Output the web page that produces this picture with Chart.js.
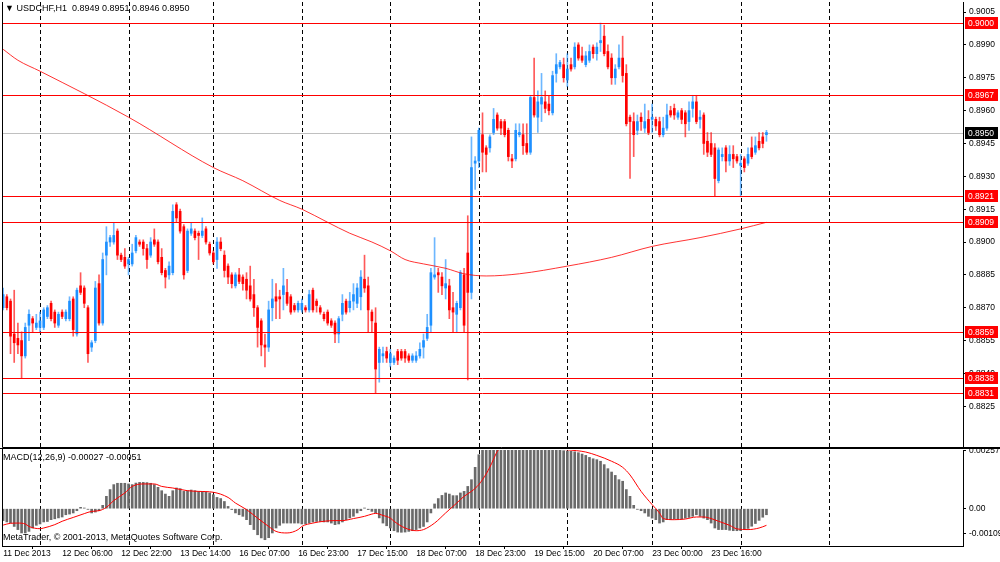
<!DOCTYPE html>
<html>
<head>
<meta charset="utf-8">
<title>USDCHF,H1</title>
<script src="https://cdn.jsdelivr.net/npm/chart.js@4.4.0/dist/chart.umd.min.js"></script>
<style>
    body { margin: 0; background: #fff; }
    #wrap { position: relative; width: 1000px; height: 562px; overflow: hidden; font-family: "Liberation Sans", Arial, "DejaVu Sans", sans-serif; }
    #price-canvas { position: absolute; left: 0; top: 0; }
    #macd-canvas { position: absolute; left: 0; top: 448px; }
    .label { position: absolute; font-size: 9px; line-height: 11px; color: #000; white-space: pre; }
</style>
</head>
<body>
<div id="wrap">
    <canvas id="price-canvas" width="1000" height="448"></canvas>
    <canvas id="macd-canvas" width="1000" height="114"></canvas>
    <div class="label" style="left:5px; top:3px;">▼ USDCHF,H1  0.8949 0.8951 0.8946 0.8950</div>
    <div class="label" style="left:3px; top:452px;">MACD(12,26,9) -0.00027 -0.00051</div>
    <div class="label" style="left:3px; top:532px;">MetaTrader, © 2001-2013, MetaQuotes Software Corp.</div>
</div>

<script>
// Hourly candles, bar 0 = 11 Dec 2013 14:00
const opens = [
    0.8870,0.8875,0.8873,0.8858,0.8856,0.8855,0.8848,0.8862,0.8865,0.8861,
    0.8861,0.8861,0.8866,0.8872,0.8868,0.8862,0.8868,0.8865,0.8865,0.8874,
    0.8858,0.8880,0.8879,0.8870,0.8852,0.8855,0.8881,0.8863,0.8894,0.8900,
    0.8900,0.8905,0.8894,0.8893,0.8890,0.8890,0.8896,0.8900,0.8900,0.8897,
    0.8894,0.8901,0.8900,0.8893,0.8887,0.8885,0.8886,0.8917,0.8914,0.8907,
    0.8887,0.8904,0.8905,0.8904,0.8903,0.8906,0.8899,0.8895,0.8892,0.8900,
    0.8894,0.8889,0.8885,0.8880,0.8885,0.8884,0.8883,0.8880,0.8876,0.8870,
    0.8864,0.8853,0.8852,0.8870,0.8875,0.8875,0.8876,0.8877,0.8875,0.8871,
    0.8869,0.8869,0.8870,0.8869,0.8878,0.8873,0.8870,0.8867,0.8868,0.8864,
    0.8863,0.8858,0.8867,0.8873,0.8870,0.8873,0.8872,0.8875,0.8883,0.8880,
    0.8868,0.8863,0.8845,0.8848,0.8850,0.8845,0.8845,0.8850,0.8850,0.8850,
    0.8848,0.8846,0.8846,0.8848,0.8852,0.8856,0.8862,0.8884,0.8886,0.8884,
    0.8879,0.8880,0.8870,0.8867,0.8870,0.8885,0.8895,0.8877,0.8936,0.8937,
    0.8949,0.8943,0.8943,0.8950,0.8958,0.8955,0.8955,0.8951,0.8938,0.8938,
    0.8949,0.8949,0.8945,0.8941,0.8966,0.8957,0.8963,0.8964,0.8963,0.8959,
    0.8977,0.8980,0.8981,0.8974,0.8981,0.8980,0.8990,0.8985,0.8981,0.8983,
    0.8989,0.8986,0.8991,0.8994,0.8987,0.8984,0.8975,0.8980,0.8984,0.8977,
    0.8957,0.8955,0.8951,0.8957,0.8952,0.8956,0.8956,0.8956,0.8955,0.8949,
    0.8952,0.8960,0.8961,0.8957,0.8960,0.8959,0.8955,0.8961,0.8964,0.8956,
    0.8958,0.8946,0.8945,0.8943,0.8928,0.8939,0.8943,0.8937,0.8940,0.8939,
    0.8935,0.8938,0.8936,0.8943,0.8941,0.8946,0.8948,0.8949
];
const highs = [
    0.8879,0.8876,0.8874,0.8878,0.8863,0.8859,0.8863,0.8869,0.8866,0.8867,
    0.8868,0.8870,0.8871,0.8873,0.8869,0.8868,0.8869,0.8869,0.8875,0.8875,
    0.8879,0.8886,0.8880,0.8871,0.8855,0.8882,0.8885,0.8895,0.8907,0.8903,
    0.8909,0.8906,0.8895,0.8897,0.8893,0.8899,0.8903,0.8901,0.8901,0.8899,
    0.8902,0.8906,0.8901,0.8897,0.8888,0.8891,0.8917,0.8918,0.8915,0.8908,
    0.8906,0.8909,0.8906,0.8905,0.8911,0.8907,0.8900,0.8896,0.8902,0.8902,
    0.8896,0.8890,0.8886,0.8886,0.8888,0.8885,0.8886,0.8889,0.8883,0.8871,
    0.8865,0.8858,0.8873,0.8883,0.8881,0.8878,0.8888,0.8883,0.8876,0.8872,
    0.8873,0.8874,0.8871,0.8878,0.8879,0.8874,0.8871,0.8868,0.8869,0.8865,
    0.8864,0.8866,0.8876,0.8874,0.8877,0.8881,0.8881,0.8887,0.8894,0.8884,
    0.8869,0.8870,0.8852,0.8852,0.8852,0.8851,0.8848,0.8851,0.8851,0.8851,
    0.8849,0.8849,0.8850,0.8854,0.8858,0.8867,0.8888,0.8902,0.8888,0.8886,
    0.8892,0.8883,0.8877,0.8873,0.8887,0.8888,0.8912,0.8948,0.8939,0.8952,
    0.8959,0.8944,0.8949,0.8961,0.8959,0.8956,0.8956,0.8952,0.8940,0.8954,
    0.8954,0.8954,0.8954,0.8967,0.8984,0.8969,0.8977,0.8969,0.8967,0.8978,
    0.8986,0.8983,0.8984,0.8986,0.8984,0.8991,0.8991,0.8989,0.8987,0.8990,
    0.8990,0.8991,0.9000,0.8999,0.8990,0.8986,0.8981,0.8990,0.8994,0.8981,
    0.8958,0.8959,0.8958,0.8959,0.8963,0.8960,0.8963,0.8957,0.8957,0.8957,
    0.8963,0.8962,0.8963,0.8960,0.8961,0.8960,0.8964,0.8967,0.8967,0.8960,
    0.8959,0.8950,0.8950,0.8945,0.8943,0.8943,0.8944,0.8944,0.8944,0.8940,
    0.8940,0.8939,0.8943,0.8948,0.8948,0.8950,0.8950,0.8951
];
const lows = [
    0.8869,0.8869,0.8849,0.8845,0.8849,0.8838,0.8847,0.8855,0.8859,0.8860,
    0.8859,0.8860,0.8865,0.8864,0.8861,0.8861,0.8865,0.8864,0.8864,0.8857,
    0.8857,0.8876,0.8870,0.8845,0.8850,0.8854,0.8862,0.8862,0.8885,0.8898,
    0.8899,0.8892,0.8891,0.8888,0.8885,0.8889,0.8895,0.8898,0.8894,0.8888,
    0.8893,0.8898,0.8890,0.8885,0.8879,0.8883,0.8885,0.8909,0.8904,0.8883,
    0.8886,0.8903,0.8901,0.8892,0.8902,0.8899,0.8894,0.8890,0.8888,0.8896,
    0.8884,0.8881,0.8879,0.8879,0.8881,0.8878,0.8874,0.8873,0.8866,0.8852,
    0.8848,0.8843,0.8850,0.8864,0.8865,0.8865,0.8869,0.8871,0.8867,0.8868,
    0.8868,0.8868,0.8868,0.8868,0.8868,0.8868,0.8867,0.8864,0.8862,0.8861,
    0.8854,0.8854,0.8864,0.8867,0.8868,0.8869,0.8870,0.8869,0.8877,0.8859,
    0.8859,0.8831,0.8836,0.8845,0.8845,0.8843,0.8844,0.8844,0.8846,0.8845,
    0.8845,0.8845,0.8845,0.8847,0.8847,0.8855,0.8859,0.8883,0.8877,0.8876,
    0.8874,0.8865,0.8859,0.8859,0.8869,0.8859,0.8837,0.8874,0.8924,0.8934,
    0.8932,0.8932,0.8941,0.8949,0.8951,0.8949,0.8948,0.8937,0.8934,0.8937,
    0.8948,0.8940,0.8940,0.8940,0.8957,0.8950,0.8955,0.8959,0.8958,0.8958,
    0.8973,0.8979,0.8973,0.8971,0.8978,0.8979,0.8983,0.8982,0.8980,0.8982,
    0.8984,0.8983,0.8987,0.8985,0.8979,0.8972,0.8972,0.8979,0.8973,0.8953,
    0.8929,0.8939,0.8949,0.8951,0.8950,0.8949,0.8950,0.8951,0.8948,0.8948,
    0.8951,0.8957,0.8956,0.8956,0.8954,0.8948,0.8951,0.8957,0.8954,0.8952,
    0.8940,0.8939,0.8939,0.8921,0.8927,0.8937,0.8932,0.8935,0.8934,0.8936,
    0.8921,0.8932,0.8935,0.8938,0.8940,0.8942,0.8943,0.8946
];
const closes = [
    0.8876,0.8870,0.8857,0.8854,0.8853,0.8848,0.8861,0.8867,0.8863,0.8863,
    0.8864,0.8869,0.8870,0.8865,0.8863,0.8867,0.8866,0.8868,0.8873,0.8860,
    0.8878,0.8877,0.8872,0.8849,0.8854,0.8879,0.8863,0.8892,0.8900,0.8902,
    0.8903,0.8894,0.8892,0.8889,0.8892,0.8895,0.8902,0.8899,0.8897,0.8892,
    0.8900,0.8899,0.8891,0.8886,0.8884,0.8889,0.8914,0.8911,0.8905,0.8885,
    0.8905,0.8906,0.8902,0.8903,0.8905,0.8900,0.8895,0.8891,0.8900,0.8897,
    0.8887,0.8884,0.8881,0.8885,0.8882,0.8881,0.8878,0.8874,0.8870,0.8861,
    0.8853,0.8852,0.8869,0.8874,0.8873,0.8874,0.8880,0.8872,0.8868,0.8869,
    0.8872,0.8872,0.8869,0.8876,0.8869,0.8871,0.8868,0.8865,0.8863,0.8862,
    0.8858,0.8865,0.8872,0.8868,0.8873,0.8876,0.8879,0.8884,0.8879,0.8869,
    0.8864,0.8842,0.8851,0.8849,0.8847,0.8849,0.8847,0.8846,0.8847,0.8847,
    0.8846,0.8848,0.8848,0.8851,0.8855,0.8861,0.8886,0.8885,0.8885,0.8880,
    0.8881,0.8869,0.8868,0.8872,0.8886,0.8862,0.8877,0.8934,0.8937,0.8951,
    0.8941,0.8940,0.8948,0.8956,0.8952,0.8952,0.8949,0.8939,0.8937,0.8951,
    0.8950,0.8944,0.8941,0.8966,0.8958,0.8964,0.8966,0.8961,0.8960,0.8976,
    0.8981,0.8982,0.8975,0.8979,0.8979,0.8989,0.8984,0.8983,0.8985,0.8987,
    0.8986,0.8989,0.8992,0.8986,0.8980,0.8975,0.8979,0.8984,0.8976,0.8954,
    0.8955,0.8949,0.8955,0.8955,0.8955,0.8950,0.8957,0.8953,0.8949,0.8952,
    0.8958,0.8958,0.8958,0.8959,0.8956,0.8954,0.8960,0.8964,0.8955,0.8957,
    0.8945,0.8941,0.8940,0.8929,0.8942,0.8940,0.8937,0.8940,0.8938,0.8937,
    0.8936,0.8934,0.8940,0.8939,0.8944,0.8943,0.8945,0.8950
];

// Moving average line, read at a few bars
const maBars   = [0, 4, 10, 34, 57, 65, 75, 81, 88, 94, 100, 105, 109, 114, 120, 125, 131, 140, 153, 165, 176, 189, 200, 207];
const maValues = [0.8988, 0.8983, 0.8978, 0.8957, 0.8934, 0.8928, 0.8919, 0.8915, 0.8909, 0.8904, 0.8900, 0.8896, 0.8892, 0.8890,
                  0.8888, 0.88855, 0.88845, 0.88855, 0.8889, 0.8893, 0.8898, 0.8902, 0.8906, 0.8909];

// Horizontal levels and current bid
const levelLines = [0.9000, 0.8967, 0.8921, 0.8909, 0.8859, 0.8838, 0.8831];
const bidPrice = 0.8950;
const priceTicks = [0.9005, 0.8990, 0.8975, 0.8960, 0.8945, 0.8930, 0.8915, 0.8900, 0.8885, 0.8870, 0.8855, 0.8840, 0.8825];

// MACD histogram, one value per bar
const macdHist = [
    -0.00053,-0.00059,-0.00064,-0.00079,-0.00093,-0.00108,-0.00108,-0.00101,-0.00086,-0.00074,
    -0.00068,-0.00059,-0.00057,-0.00049,-0.00045,-0.00041,-0.00037,-0.00027,-0.00024,-0.00019,
    -0.00009,0.00006,0.00003,-0.00003,-0.00019,-0.00015,-0.00009,0.00015,0.00055,0.00085,
    0.00107,0.00113,0.00113,0.00113,0.00110,0.00107,0.00114,0.00117,0.00117,0.00116,
    0.00113,0.00107,0.00095,0.00080,0.00065,0.00055,0.00080,0.00092,0.00089,0.00077,
    0.00080,0.00083,0.00080,0.00077,0.00077,0.00074,0.00070,0.00062,0.00050,0.00045,
    0.00032,0.00010,-0.00004,-0.00019,-0.00027,-0.00034,-0.00049,-0.00071,-0.00093,-0.00116,
    -0.00130,-0.00138,-0.00129,-0.00108,-0.00086,-0.00074,-0.00064,-0.00064,-0.00064,-0.00064,
    -0.00064,-0.00068,-0.00068,-0.00064,-0.00059,-0.00057,-0.00057,-0.00059,-0.00059,-0.00064,
    -0.00071,-0.00068,-0.00059,-0.00049,-0.00041,-0.00034,-0.00019,-0.00009,0.00003,-0.00004,
    -0.00012,-0.00019,-0.00041,-0.00064,-0.00076,-0.00086,-0.00098,-0.00104,-0.00105,-0.00104,
    -0.00101,-0.00098,-0.00093,-0.00086,-0.00079,-0.00059,-0.00019,0.00021,0.00045,0.00059,
    0.00070,0.00065,0.00058,0.00058,0.00070,0.00077,0.00099,0.00129,0.00184,0.00240,
    0.00262,0.00280,0.00295,0.00305,0.00310,0.00312,0.00310,0.00305,0.00302,0.00300,
    0.00298,0.00296,0.00292,0.00295,0.00300,0.00295,0.00290,0.00282,0.00275,0.00270,
    0.00266,0.00262,0.00258,0.00256,0.00255,0.00253,0.00249,0.00243,0.00237,0.00228,
    0.00222,0.00218,0.00211,0.00196,0.00178,0.00163,0.00148,0.00129,0.00122,0.00085,
    0.00055,0.00015,-0.00003,-0.00009,-0.00019,-0.00034,-0.00042,-0.00049,-0.00064,-0.00059,
    -0.00049,-0.00049,-0.00046,-0.00045,-0.00045,-0.00042,-0.00039,-0.00034,-0.00027,-0.00034,
    -0.00042,-0.00049,-0.00064,-0.00086,-0.00093,-0.00093,-0.00093,-0.00096,-0.00098,-0.00098,
    -0.00098,-0.00093,-0.00088,-0.00078,-0.00066,-0.00052,-0.00038,-0.00027
];

// MACD signal line, read at a few bars
const signalBars = [0, 2, 4, 6, 7, 10, 11, 14, 16, 19, 22, 24, 26, 28, 30, 33, 35, 38, 41, 43, 46, 50, 53, 57,
                    61, 63, 66, 69, 72, 74, 77, 80, 81, 84, 87, 90, 92, 95, 98, 100, 101, 103, 105, 106, 109,
                    112, 114, 117, 120, 123, 125, 127, 129, 131, 132, 133, 134, 136, 140, 142, 145, 148, 153,
                    158, 161, 165, 168, 170, 173, 176, 178, 179, 182, 185, 188, 190, 192, 194, 197, 199, 202, 205, 207];
const signalValues = [-0.00073, -0.00065, -0.00064, -0.00068, -0.00079, -0.00089, -0.00086, -0.00071, -0.00056, -0.00039,
                      -0.00022, -0.00012, -0.00009, 0.00006, 0.00036, 0.00070, 0.00099, 0.00110, 0.00110, 0.00099,
                      0.00092, 0.00080, 0.00077, 0.00073, 0.00050, 0.00025, -0.00004, -0.00042, -0.00079, -0.00101,
                      -0.00108, -0.00093, -0.00079, -0.00064, -0.00056, -0.00053, -0.00053, -0.00044, -0.00034, -0.00024,
                      -0.00021, -0.00030, -0.00042, -0.00056, -0.00086, -0.00098, -0.00093, -0.00064, -0.00019, 0.00025,
                      0.00055, 0.00077, 0.00107, 0.00155, 0.00185, 0.00220, 0.00255, 0.00285, 0.00300, 0.00295,
                      0.00285, 0.00270, 0.00262, 0.00252, 0.00237, 0.00211, 0.00184, 0.00150, 0.00077, 0.00018,
                      -0.00019, -0.00044, -0.00049, -0.00046, -0.00037, -0.00037, -0.00044, -0.00056, -0.00074, -0.00090,
                      -0.00093, -0.00086, -0.00074];
const macdTicks = [0.00257, 0, -0.00109];

// Time axis labels every 16 bars, day separators
const timeTickBars = [0, 16, 32, 48, 64, 80, 96, 112, 128, 144, 160, 176, 192];
const timeLabels = ['11 Dec 2013', '12 Dec 06:00', '12 Dec 22:00', '13 Dec 14:00', '16 Dec 07:00', '16 Dec 23:00',
                    '17 Dec 15:00', '18 Dec 07:00', '18 Dec 23:00', '19 Dec 15:00', '20 Dec 07:00', '23 Dec 00:00', '23 Dec 16:00'];
const daySeparators = [10, 34, 57, 81, 105, 129, 153, 176, 200, 224];

const UP_COLOR = '#1E90FF';
const DOWN_COLOR = '#FF0000';
const FONT = { family: "'Liberation Sans', Arial, sans-serif", size: 8.5 };

// visible range of the window
const X_MIN = -0.31, X_MAX = 260.3;
const PRICE_MIN = 0.88064, PRICE_MAX = 0.90096;
const MACD_MIN = -0.00166, MACD_MAX = 0.00261;

document.addEventListener('DOMContentLoaded', function() {
    renderPriceChart();
    renderMacdChart();
});

// Dashed vertical lines at day starts
function drawSeparators(chart) {
    const ctx = chart.ctx;
    const area = chart.chartArea;
    ctx.save();
    ctx.strokeStyle = '#000';
    ctx.lineWidth = 1;
    ctx.setLineDash([4, 3]);
    daySeparators.forEach(function(bar) {
        const x = Math.round(chart.scales.x.getPixelForValue(bar)) + 0.5;
        ctx.beginPath();
        ctx.moveTo(x, area.top);
        ctx.lineTo(x, area.bottom);
        ctx.stroke();
    });
    ctx.restore();
}

function horizontalLine(chart, value, color) {
    const ctx = chart.ctx;
    const area = chart.chartArea;
    const y = Math.round(chart.scales.y.getPixelForValue(value)) + 0.5;
    ctx.save();
    ctx.strokeStyle = color;
    ctx.lineWidth = 1;
    ctx.beginPath();
    ctx.moveTo(area.left, y);
    ctx.lineTo(area.right, y);
    ctx.stroke();
    ctx.restore();
}

function priceTag(chart, value, bg) {
    const ctx = chart.ctx;
    const area = chart.chartArea;
    const y = Math.round(chart.scales.y.getPixelForValue(value));
    ctx.save();
    ctx.fillStyle = bg;
    ctx.fillRect(area.right + 2, y - 6, 33, 12);
    ctx.fillStyle = '#fff';
    ctx.font = FONT.size + 'px ' + FONT.family;
    ctx.textBaseline = 'middle';
    ctx.fillText(value.toFixed(4), area.right + 5, y + 0.5);
    ctx.restore();
}

const priceOverlay = {
    id: 'priceOverlay',
    beforeDatasetsDraw(chart) {
        drawSeparators(chart);
        horizontalLine(chart, bidPrice, '#C0C0C0');
    },
    afterDatasetsDraw(chart) {
        levelLines.forEach(v => horizontalLine(chart, v, '#FF0000'));
        // left and bottom frame
        const ctx = chart.ctx;
        const area = chart.chartArea;
        ctx.save();
        ctx.strokeStyle = '#000';
        ctx.lineWidth = 1;
        ctx.beginPath();
        ctx.moveTo(area.left + 0.5, area.top);
        ctx.lineTo(area.left + 0.5, area.bottom + 0.5);
        ctx.lineTo(chart.width, area.bottom + 0.5);
        ctx.stroke();
        ctx.restore();
    },
    afterDraw(chart) {
        levelLines.forEach(v => priceTag(chart, v, '#FF0000'));
        priceTag(chart, bidPrice, '#000');
    }
};

const macdOverlay = {
    id: 'macdOverlay',
    beforeDatasetsDraw(chart) {
        drawSeparators(chart);
    },
    afterDraw(chart) {
        const ctx = chart.ctx;
        const area = chart.chartArea;
        ctx.save();
        ctx.strokeStyle = '#000';
        ctx.lineWidth = 1;
        ctx.beginPath();
        ctx.moveTo(0, 0.5);
        ctx.lineTo(chart.width, 0.5);
        ctx.moveTo(area.left + 0.5, 0);
        ctx.lineTo(area.left + 0.5, area.bottom);
        ctx.stroke();
        ctx.restore();
    }
};

// Right hand value axis, fixed width like the terminal
function rightAxis(min, max, tickValues, format) {
    return {
        position: 'right',
        min: min,
        max: max,
        afterBuildTicks: function(scale) {
            scale.ticks = tickValues.map(v => ({ value: v }));
        },
        afterFit: function(scale) {
            scale.width = 37;
            scale.paddingTop = 0;
            scale.paddingBottom = 0;
        },
        grid: { drawOnChartArea: false, tickLength: 3, color: '#000' },
        border: { color: '#000' },
        ticks: { color: '#000', font: FONT, padding: 3, autoSkip: false, callback: format }
    };
}

// Price chart with candles
function renderPriceChart() {
    const ctx = document.getElementById('price-canvas').getContext('2d');

    const colors = closes.map((c, i) => c >= opens[i] ? UP_COLOR : DOWN_COLOR);
    const wickColors = closes.map((c, i) => c >= opens[i] ? 'rgba(30,144,255,0.65)' : 'rgba(255,0,0,0.65)');

    window.priceChart = new Chart(ctx, {
        type: 'bar',
        data: {
            datasets: [{
                label: 'body',
                data: opens.map((o, i) => ({ x: i, y: [o, closes[i]] })),
                backgroundColor: colors,
                barThickness: 2,
                minBarLength: 1,
                grouped: false,
                order: 1
            }, {
                label: 'wick',
                data: lows.map((l, i) => ({ x: i, y: [l, highs[i]] })),
                backgroundColor: wickColors,
                barThickness: 1,
                grouped: false,
                order: 2
            }, {
                type: 'line',
                label: 'MA',
                data: maBars.map((b, i) => ({ x: b, y: maValues[i] })),
                borderColor: 'rgba(255,0,0,0.8)',
                borderWidth: 1,
                pointRadius: 0,
                cubicInterpolationMode: 'monotone',
                order: 0
            }]
        },
        options: {
            responsive: false,
            animation: false,
            devicePixelRatio: 1,
            events: [],
            layout: { padding: { left: 2, top: 2, right: 0, bottom: 1 } },
            plugins: { legend: { display: false }, tooltip: { enabled: false } },
            scales: {
                x: { type: 'linear', min: X_MIN, max: X_MAX, offset: false, display: false },
                y: rightAxis(PRICE_MIN, PRICE_MAX, priceTicks, v => v.toFixed(4))
            }
        },
        plugins: [priceOverlay]
    });
}

// MACD sub window
function renderMacdChart() {
    const ctx = document.getElementById('macd-canvas').getContext('2d');

    window.macdChart = new Chart(ctx, {
        type: 'bar',
        data: {
            datasets: [{
                label: 'MACD',
                data: macdHist.map((v, i) => ({ x: i, y: v })),
                backgroundColor: '#6a6a6a',
                barThickness: 2,
                grouped: false,
                order: 1
            }, {
                type: 'line',
                label: 'Signal',
                data: signalBars.map((b, i) => ({ x: b, y: signalValues[i] })),
                borderColor: '#FF0000',
                borderWidth: 1,
                pointRadius: 0,
                cubicInterpolationMode: 'monotone',
                order: 0
            }]
        },
        options: {
            responsive: false,
            animation: false,
            devicePixelRatio: 1,
            events: [],
            layout: { padding: { left: 2, top: 2, right: 0, bottom: 0 } },
            plugins: { legend: { display: false }, tooltip: { enabled: false } },
            scales: {
                x: {
                    type: 'linear',
                    min: X_MIN,
                    max: X_MAX,
                    offset: false,
                    afterBuildTicks: function(scale) {
                        scale.ticks = timeTickBars.map(v => ({ value: v }));
                    },
                    afterFit: function(scale) {
                        scale.height = 16;
                        scale.paddingLeft = 0;
                        scale.paddingRight = 0;
                    },
                    grid: { drawOnChartArea: false, tickLength: 3, color: '#000' },
                    border: { color: '#000' },
                    ticks: {
                        color: '#000',
                        font: FONT,
                        padding: 0,
                        align: 'start',
                        maxRotation: 0,
                        autoSkip: false,
                        callback: (v, i) => timeLabels[i]
                    }
                },
                y: rightAxis(MACD_MIN, MACD_MAX, macdTicks, v => v === 0 ? '0.00' : v.toFixed(5))
            }
        },
        plugins: [macdOverlay]
    });
}
</script>
</body>
</html>
